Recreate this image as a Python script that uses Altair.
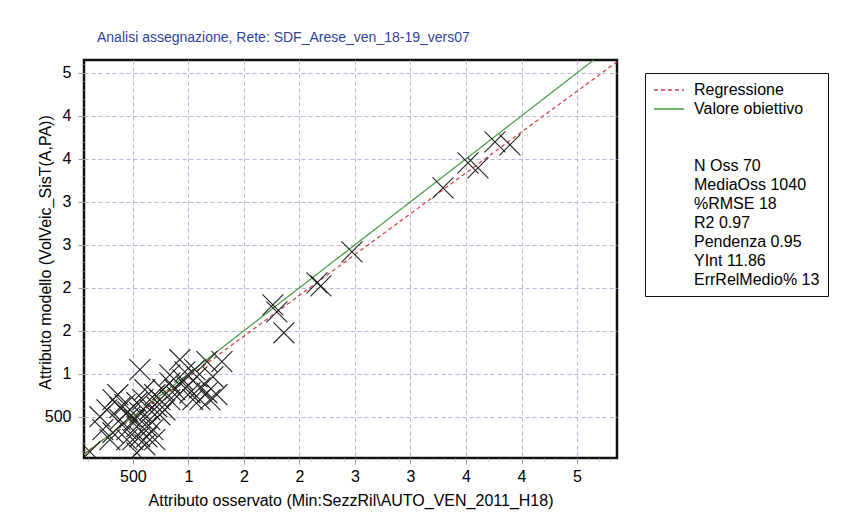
import altair as alt
import pandas as pd

# ---- data ----
obs_x = [3293, 3518, 3608, 3761, 3896, 2473, 2158, 2194, 1761, 1797, 1860,
         1302, 1167, 923, 563, 1221,
         113, 203, 230, 266, 320, 320, 383, 446, 446, 473, 500, 536, 536, 536,
         563, 563, 590, 626, 626, 653, 680, 716, 743, 770, 833, 833, 896, 986,
         1041, 1104, 1104, 1167, 1194, 1257, 1077, 365, 428, 608, 698, 788, 878,
         950, 1014, 518, 653, 743, 455, 608, 698, 968, 1059, 833, 293, 383]
mod_y = [3163, 3454, 3395, 3698, 3663, 2419, 2058, 2023, 1802, 1721, 1477,
         1140, 1140, 1163, 1047, 965,
         93, 500, 349, 581, 698, 314, 465, 349, 233, 500, 233, 663, 384, 81,
         547, 267, 698, 384, 267, 581, 349, 616, 698, 814, 895, 698, 733, 849,
         698, 837, 698, 779, 698, 756, 965, 756, 640, 814, 756, 581, 814,
         930, 779, 465, 465, 523, 558, 174, 233, 1023, 1047, 988, 233, 605]

tick_values = [500, 1000, 1500, 2000, 2500, 3000, 3500, 4000, 4500]
tick_labels = ["500", "1", "2", "2", "3", "3", "4", "4", "5"]
minor_values = list(range(100, 4900, 100))
x_domain = [60, 4860]
y_domain = [20, 4650]

series = ["Regressione", "Valore obiettivo"]
slopes = [0.95, 1.0]
intercepts = [11.86, 0.0]
series_colors = ["#d23b3b", "#3f9c3f"]
stats = ["N Oss 70", "MediaOss 1040", "%RMSE 18", "R2 0.97",
         "Pendenza 0.95", "YInt 11.86", "ErrRelMedio% 13"]

# ---- tables ----
pts = pd.DataFrame({"x": obs_x, "y": mod_y})
rows = []
for s, m, q in zip(series, slopes, intercepts):
    for xv in x_domain:
        rows.append({"serie": s, "x": xv, "y": m * xv + q})
lines = pd.DataFrame(rows)

legend_domain = series + [" ", "  "] + stats
legend_colors = series_colors + ["rgba(0,0,0,0)"] * (len(legend_domain) - 2)
legend_dash = [[4, 3], [1, 0]] + [[1, 0]] * (len(legend_domain) - 2)

label_expr = ("[" + ",".join("'%s'" % l for l in tick_labels) + "][indexof(["
              + ",".join(str(v) for v in tick_values) + "], datum.value)]")

FONT = "Liberation Sans"
FS = 16
xscale = alt.Scale(domain=x_domain, nice=False, zero=False)
yscale = alt.Scale(domain=y_domain, nice=False, zero=False)

main_x_axis = alt.Axis(
    orient="bottom", values=tick_values, labelExpr=label_expr, grid=True,
    gridDash=[4, 3], gridColor="#b7b7dc", gridWidth=1, domain=False,
    tickSize=6, tickColor="#999999", labelPadding=4, labelFont=FONT,
    labelFontSize=FS, labelColor="#000000",
    title="Attributo osservato (Min:SezzRil\\AUTO_VEN_2011_H18)",
    titleFont=FONT, titleFontSize=FS, titleFontWeight="normal",
    titleColor="#000000", titleY=42, titleBaseline="middle")
main_y_axis = alt.Axis(
    orient="left", values=tick_values, labelExpr=label_expr, grid=True,
    gridDash=[4, 3], gridColor="#b7b7dc", gridWidth=1, domain=False,
    tickSize=6, tickColor="#999999", labelPadding=7, labelFont=FONT,
    labelFontSize=FS, labelColor="#000000",
    title="Attributo modello (VolVeic_SisT(A,PA))",
    titleFont=FONT, titleFontSize=FS, titleFontWeight="normal",
    titleColor="#000000", titleX=-39, titleY=192, titleAngle=-90,
    titleAlign="center", titleBaseline="middle")
minor_x_axis = alt.Axis(orient="bottom", values=minor_values, labels=False,
                        grid=False, domain=False, tickSize=4,
                        tickColor="#aaaaaa", tickDash=[1, 1], title=None)
minor_y_axis = alt.Axis(orient="left", values=minor_values, labels=False,
                        grid=False, domain=False, tickSize=4,
                        tickColor="#aaaaaa", tickDash=[1, 1], title=None)

legend_cfg = dict(
    title=None, orient="none", legendX=561, legendY=13,
    symbolType="M-1,0L2.75,0", symbolSize=256, symbolStrokeWidth=1.3,
    labelFont=FONT, labelFontSize=FS, labelColor="#000000",
    labelLimit=300, labelOffset=23, rowPadding=2, padding=8,
    strokeColor="#111111", fillColor="white")

line_layer = alt.Chart(lines).mark_line(clip=True, strokeWidth=1.2).encode(
    x=alt.X("x:Q", scale=xscale, axis=minor_x_axis),
    y=alt.Y("y:Q", scale=yscale, axis=minor_y_axis),
    color=alt.Color("serie:N",
                    scale=alt.Scale(domain=legend_domain, range=legend_colors),
                    legend=alt.Legend(**legend_cfg)),
    strokeDash=alt.StrokeDash("serie:N",
                              scale=alt.Scale(domain=legend_domain, range=legend_dash),
                              legend=alt.Legend(**legend_cfg)),
    detail="serie:N",
)

xshape = "M-1,-1L1,1M-1,1L1,-1"
point_layer = alt.Chart(pts).mark_point(
    shape=xshape, filled=False, size=440, stroke="#222222", strokeWidth=1.1,
    opacity=1, clip=True).encode(
    x=alt.X("x:Q", scale=xscale, axis=main_x_axis),
    y=alt.Y("y:Q", scale=yscale, axis=main_y_axis),
)

chart = alt.layer(line_layer, point_layer).resolve_axis(
    x="independent", y="independent"
).properties(
    width=533, height=398,
    background="white",
    autosize=alt.AutoSizeParams(type="none"),
    padding={"left": 76, "top": 52, "right": 225, "bottom": 64},
    title=alt.Title("Analisi assegnazione, Rete: SDF_Arese_ven_18-19_vers07",
                    anchor="start", frame="group", dx=13, offset=15, font=FONT,
                    fontSize=14, fontWeight="normal", color="#2f3f9f"),
).configure_view(stroke="#111111", strokeWidth=2.5)

chart.save("out.html", embed_options={"renderer": "svg", "actions": False})
